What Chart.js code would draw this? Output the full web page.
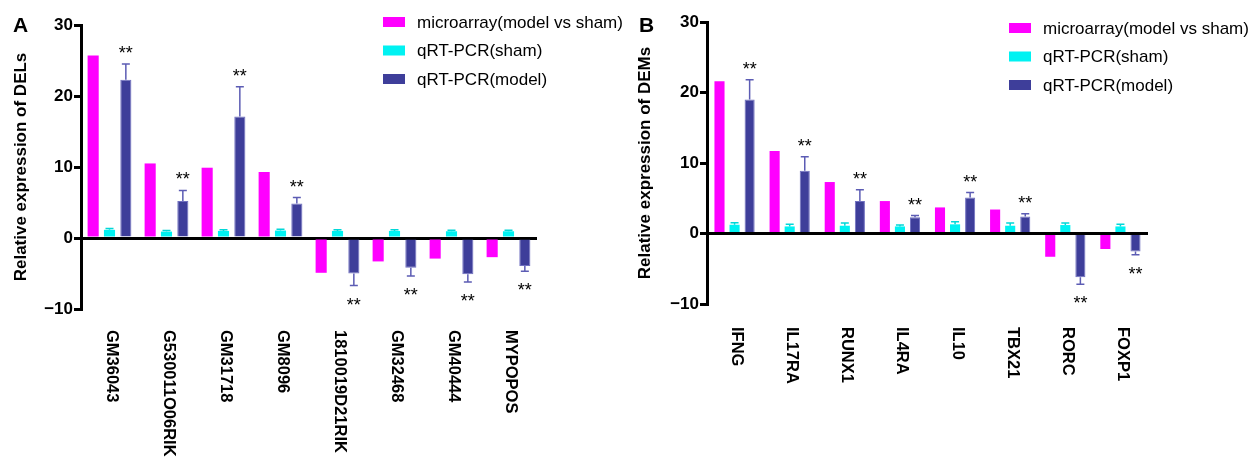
<!DOCTYPE html>
<html>
<head>
<meta charset="utf-8">
<script src="https://cdn.jsdelivr.net/npm/chart.js@4.4.1/dist/chart.umd.min.js"></script>
<style>
  html, body { margin: 0; padding: 0; background: #fff; }
  #wrap { position: relative; width: 1253px; height: 459px; }
  canvas { position: absolute; top: 0; }
</style>
</head>
<body>
<div id="wrap">
  <canvas id="chartA" width="626" height="459" style="left:0px"></canvas>
  <canvas id="chartB" width="627" height="459" style="left:626px"></canvas>
</div>
<script>
// series names
const seriesNames = ["microarray(model vs sham)", "qRT-PCR(sham)", "qRT-PCR(model)"];
const yTicks = [-10, 0, 10, 20, 30];

// panel A - DELs
const genesA = ["GM36043", "G530011O06RIK", "GM31718", "GM8096", "1810019D21RIK", "GM32468", "GM40444", "MYPOPOS"];
const microA = [25.7, 10.5, 9.9, 9.3, -4.9, -3.3, -2.9, -2.7];
const shamA = [1.15, 0.9, 1.0, 1.05, 1.0, 1.0, 0.95, 0.95];
const shamErrA = [0.2, 0.15, 0.15, 0.2, 0.15, 0.15, 0.15, 0.15];
const modelA = [22.3, 5.2, 17.1, 4.85, -5.0, -4.2, -5.1, -3.95];
const modelErrA = [2.2, 1.5, 4.2, 0.85, 1.7, 1.15, 1.1, 0.75];
const starsA = ["**", "**", "**", "**", "**", "**", "**", "**"];

// panel B - DEMs
const genesB = ["IFNG", "IL17RA", "RUNX1", "IL4RA", "IL10", "TBX21", "RORC", "FOXP1"];
const microB = [21.6, 11.7, 7.3, 4.6, 3.7, 3.4, -3.3, -2.2];
const shamB = [1.24, 1.0, 1.1, 1.0, 1.3, 1.1, 1.2, 1.0];
const shamErrB = [0.3, 0.3, 0.4, 0.2, 0.35, 0.4, 0.3, 0.3];
const modelB = [19.0, 8.9, 4.6, 2.3, 5.1, 2.4, -6.2, -2.55];
const modelErrB = [2.8, 2.0, 1.6, 0.25, 0.7, 0.4, 1.0, 0.45];
const starsB = ["**", "**", "**", "**", "**", "**", "**", "**"];

const FONT = 'Arial, "Liberation Sans", sans-serif';
const colors = ["#ff00ff", "#00f2f2", "#3e3e9a"];
const borders = ["#ff00ff", "#00f2f2", "#7070c0"];
const errColors = [null, "#00d8d8", "#5c5cb4"];

Chart.defaults.font.family = FONT;
Chart.defaults.color = "#000";

// error bars, stars, rotated gene labels, legend and panel letter
const decorPlugin = {
  id: "decor",
  afterDatasetsDraw(chart, args, opts) {
    const ctx = chart.ctx;
    const y = chart.scales.y;
    [1, 2].forEach(di => {
      const ds = chart.data.datasets[di];
      chart.getDatasetMeta(di).data.forEach((bar, i) => {
        const v = ds.data[i];
        const e = ds.errors[i];
        const end = v >= 0 ? v + e : v - e;
        const yEnd = y.getPixelForValue(end);
        ctx.save();
        ctx.strokeStyle = errColors[di];
        ctx.lineWidth = 1.5;
        ctx.beginPath();
        ctx.moveTo(bar.x, bar.y);
        ctx.lineTo(bar.x, yEnd);
        ctx.moveTo(bar.x - 4, yEnd);
        ctx.lineTo(bar.x + 4, yEnd);
        ctx.stroke();
        if (ds.stars && ds.stars[i]) {
          ctx.fillStyle = "#000";
          ctx.font = "18px " + FONT;
          ctx.textAlign = "center";
          ctx.textBaseline = "alphabetic";
          ctx.fillText(ds.stars[i], bar.x, v >= 0 ? yEnd - 5 : yEnd + 25);
        }
        ctx.restore();
      });
    });
  },
  afterDraw(chart, args, opts) {
    const ctx = chart.ctx;
    const x = chart.scales.x;
    ctx.save();
    // gene labels, turned clockwise
    ctx.font = "bold 16.5px " + FONT;
    ctx.fillStyle = "#000";
    ctx.textAlign = "left";
    ctx.textBaseline = "middle";
    chart.data.labels.forEach((lab, i) => {
      ctx.save();
      ctx.translate(x.getPixelForValue(i) + 2, chart.chartArea.bottom + opts.labelGap);
      ctx.rotate(Math.PI / 2);
      ctx.fillText(lab, 0, 0);
      ctx.restore();
    });
    // panel letter
    ctx.font = "bold 21px " + FONT;
    ctx.textBaseline = "alphabetic";
    ctx.fillText(opts.letter, 13, 32);
    // legend
    ctx.font = "17px " + FONT;
    ctx.textBaseline = "middle";
    seriesNames.forEach((name, i) => {
      const cy = opts.legendTop + i * 28.5;
      ctx.fillStyle = colors[i];
      ctx.fillRect(383, cy - 5, 22, 10);
      ctx.fillStyle = "#000";
      ctx.fillText(name, 417, cy + 1);
    });
    ctx.restore();
  }
};

function makeChart(id, genes, micro, sham, shamErr, model, modelErr, stars, p) {
  const sets = [micro, sham, model];
  return new Chart(document.getElementById(id).getContext("2d"), {
    type: "bar",
    data: {
      labels: genes,
      datasets: sets.map((d, i) => ({
        label: seriesNames[i],
        data: d,
        errors: i === 1 ? shamErr : (i === 2 ? modelErr : null),
        stars: i === 2 ? stars : null,
        backgroundColor: colors[i],
        borderColor: borders[i],
        borderWidth: i === 2 ? 1 : 0,
        categoryPercentage: p.catPct,
        barPercentage: p.barPct
      }))
    },
    plugins: [decorPlugin],
    options: {
      responsive: false,
      animation: false,
      devicePixelRatio: 1,
      layout: { padding: { left: 0, right: p.padRight, top: p.top, bottom: 0 } },
      plugins: {
        legend: { display: false },
        tooltip: { enabled: false },
        decor: { letter: p.letter, legendTop: p.legendTop, labelGap: p.labelGap }
      },
      scales: {
        x: {
          ticks: { display: false },
          grid: { display: false },
          border: { display: false },
          afterFit(scale) { scale.height = p.xHeight; }
        },
        y: {
          min: yTicks[0],
          max: yTicks[yTicks.length - 1],
          afterBuildTicks(scale) { scale.ticks = yTicks.map(v => ({ value: v })); },
          ticks: {
            color: "#000",
            padding: 1,
            font: { size: 17, weight: "bold" },
            callback: v => (v < 0 ? "\u2212" + Math.abs(v) : "" + v)
          },
          grid: {
            color: c => (c.tick && c.tick.value === 0 ? "#000" : "rgba(0,0,0,0)"),
            lineWidth: 3,
            tickColor: "#000",
            tickWidth: 3,
            tickLength: 7
          },
          border: { color: "#000", width: 3 },
          title: {
            display: true,
            text: p.yTitle,
            color: "#000",
            font: { size: 17, weight: "bold" },
            padding: { top: p.titlePad, bottom: 0 }
          },
          afterFit(scale) { scale.width = 81; }
        }
      }
    }
  });
}

makeChart("chartA", genesA, microA, shamA, shamErrA, modelA, modelErrA, starsA, {
  letter: "A", yTitle: "Relative expression of DELs", titlePad: 11,
  padRight: 89, top: 25, xHeight: 150, legendTop: 22, labelGap: 21,
  catPct: 0.86, barPct: 0.68
});
makeChart("chartB", genesB, microB, shamB, shamErrB, modelB, modelErrB, starsB, {
  letter: "B", yTitle: "Relative expression of DEMs", titlePad: 9,
  padRight: 105, top: 22, xHeight: 155, legendTop: 28, labelGap: 23,
  catPct: 0.82, barPct: 0.67
});
</script>
</body>
</html>
